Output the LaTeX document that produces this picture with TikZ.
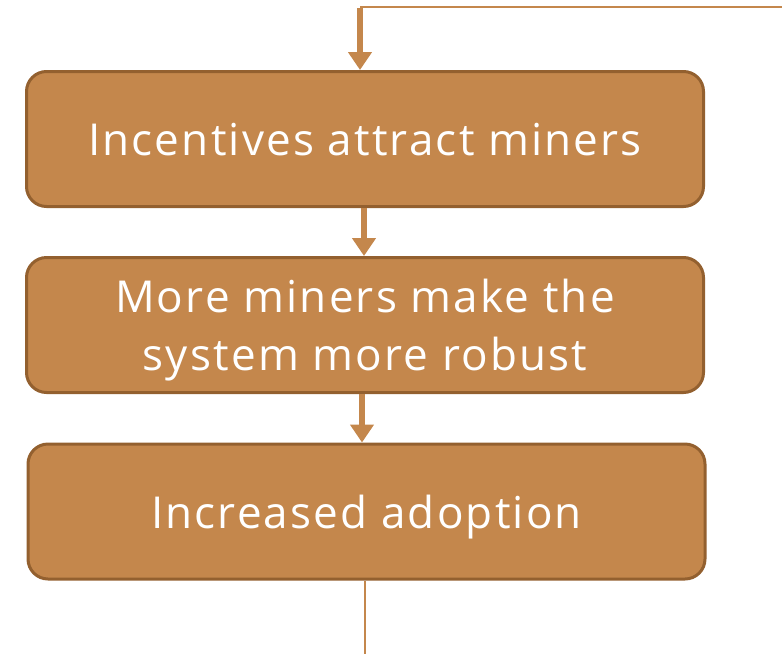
\documentclass[tikz,border=0pt]{standalone}
\usepackage{fontspec}
\setmainfont{Open Sans}[LetterSpace=5]
\usetikzlibrary{arrows.meta}
\definecolor{boxfill}{HTML}{C4874C}
\definecolor{boxline}{HTML}{93602F}
\tikzset{
  flowbox/.style={draw=boxline, line width=3pt, fill=boxfill, rounded corners=20pt,
    minimum width=677pt, minimum height=135pt, inner sep=0pt, align=center,
    text=white, text depth=0pt, font=\fontsize{44}{58}\selectfont},
  thinline/.style={draw=boxfill, line width=2.5pt},
  bigarrow/.style={draw=boxfill, line width=6.5pt, -{Triangle[width=23pt,length=18pt]}}
}
\begin{document}
\begin{tikzpicture}[x=1pt,y=-1pt]
\useasboundingbox (0,0) rectangle (782,654);
\node[flowbox] (b1) at (365,139) {Incentives attract miners};
\node[flowbox] (b2) at (365,325) {More miners make the\\system more robust};
\node[flowbox] (b3) at (366.5,511.5) {Increased adoption};
\coordinate (tr) at (782,7);
\coordinate (tl) at (360,7);
\coordinate (bot) at (365,654);
\draw[thinline] (tr) -- (tl);
\draw[bigarrow] ([yshift=-1.2pt]tl) -- (tl |- b1.north);
\draw[bigarrow] ([xshift=-1pt]b1.south) -- ([xshift=-1pt]b2.north);
\draw[bigarrow] ([xshift=-3pt]b2.south) -- ([xshift=-3pt]b2.south |- b3.north);
\draw[thinline] ([xshift=-1.5pt]b3.south) -- ([xshift=-1.5pt]b3.south |- bot);
\end{tikzpicture}
\end{document}
